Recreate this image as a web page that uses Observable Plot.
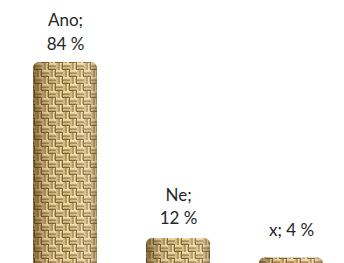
<!DOCTYPE html>
<html><head><meta charset="utf-8">
<script src="https://cdn.jsdelivr.net/npm/d3@7"></script>
<script src="https://cdn.jsdelivr.net/npm/@observablehq/plot@0.6"></script>
<style>body{margin:0;background:#fff;overflow:hidden}svg{display:block}</style>
</head><body><div id="chart"></div>
<script>
const categories = ["Ano", "Ne", "x"];
const values = [84, 12, 4];
const labels = ["Ano;\n84 %", "Ne;\n12 %", "x; 4 %"];

const data = categories.map((c, i) => ({cat: c, value: values[i], label: labels[i]}));
const textStyle = {x: "cat", y: "value", text: "label", lineAnchor: "bottom", lineHeight: 1.41, fill: "#262626", fontSize: 17};

const plot = Plot.plot({
  width: 344, height: 263,
  marginTop: 0, marginBottom: 0, marginLeft: 0, marginRight: 0,
  x: {domain: categories, range: [8.5, 347.5], paddingInner: 0.434, paddingOuter: 0.217, axis: null},
  y: {domain: [1.76, 109.4], range: [263, 0], axis: null},
  style: {fontFamily: "Lato, 'Open Sans', sans-serif", fontSize: "17px", color: "#262626", background: "#fff"},
  marks: [
    Plot.barY(data, {x: "cat", y: "value", fill: "url(#burlap)", rx: 6, clip: true}),
    Plot.barY(data, {x: "cat", y: "value", fill: "url(#shade)", rx: 6, clip: true}),
    Plot.text(data.slice(0, 1), {...textStyle, dy: -13}),
    Plot.text(data.slice(1, 2), {...textStyle, dy: -14}),
    Plot.text(data.slice(2, 3), {...textStyle, dy: -22})
  ]
});

const defs = d3.select(plot).insert("defs", ":first-child");
const B = 7, N = 4, S = B * N;
const pat = defs.append("pattern").attr("id", "burlap").attr("patternUnits", "userSpaceOnUse")
  .attr("width", S).attr("height", S);
pat.append("rect").attr("width", S).attr("height", S).attr("fill", "#6e5026");
const light = ["#f0dca6", "#d9bd80"], mid = "#b8975a";
for (let i = 0; i < N; i++) {
  for (let j = 0; j < N; j++) {
    const x0 = i * B, y0 = j * B;
    const horiz = (i + j) % 2 === 0;
    for (let k = 0; k < 2; k++) {
      const c = light[(i * 3 + j + k) % 2];
      if (horiz) {
        pat.append("rect").attr("x", x0).attr("y", y0 + k * 3.5).attr("width", B).attr("height", 2.6).attr("fill", c);
        pat.append("rect").attr("x", x0 + 1).attr("y", y0 + k * 3.5 + 1.8).attr("width", B - 2).attr("height", 0.8).attr("fill", mid);
      } else {
        pat.append("rect").attr("x", x0 + k * 3.5).attr("y", y0).attr("width", 2.6).attr("height", B).attr("fill", c);
        pat.append("rect").attr("x", x0 + k * 3.5 + 1.8).attr("y", y0 + 1).attr("width", 0.8).attr("height", B - 2).attr("fill", mid);
      }
    }
  }
}

const grad = defs.append("linearGradient").attr("id", "shade").attr("x1", 0).attr("x2", 1).attr("y1", 0).attr("y2", 0);
grad.append("stop").attr("offset", 0).attr("stop-color", "#4a3210").attr("stop-opacity", 0.6);
grad.append("stop").attr("offset", 0.18).attr("stop-color", "#4a3210").attr("stop-opacity", 0.15);
grad.append("stop").attr("offset", 0.5).attr("stop-color", "#fff").attr("stop-opacity", 0.0);
grad.append("stop").attr("offset", 0.85).attr("stop-color", "#fff").attr("stop-opacity", 0.15);
grad.append("stop").attr("offset", 1).attr("stop-color", "#4a3210").attr("stop-opacity", 0.35);

document.getElementById("chart").appendChild(plot);
</script></body></html>
